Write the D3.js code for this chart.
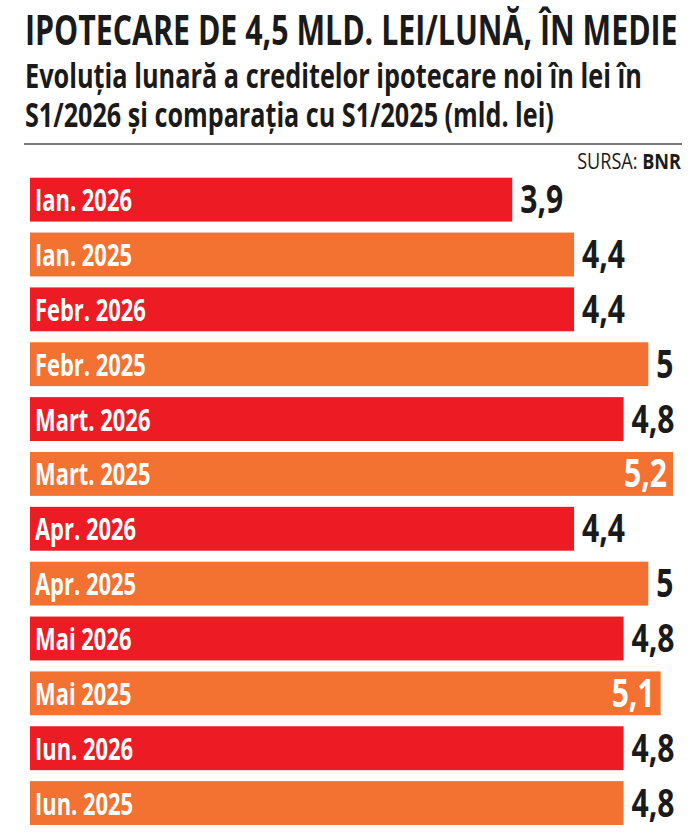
<!DOCTYPE html>
<html lang="ro">
<head>
<meta charset="utf-8">
<title>Ipotecare de 4,5 mld. lei/lună, în medie</title>
<script src="https://cdn.jsdelivr.net/npm/d3@7"></script>
<style>
  html, body { margin: 0; padding: 0; background: #fff; }
  svg { display: block; }
  .cond { font-family: "Open Sans", "Noto Sans", "DejaVu Sans", sans-serif; }
</style>
</head>
<body>
<svg id="chart"></svg>
<script>
  // Date (mld. lei)
  const categories = [
    "Ian. 2026", "Ian. 2025",
    "Febr. 2026", "Febr. 2025",
    "Mart. 2026", "Mart. 2025",
    "Apr. 2026", "Apr. 2025",
    "Mai 2026", "Mai 2025",
    "Iun. 2026", "Iun. 2025"
  ];
  const years = [2026, 2025, 2026, 2025, 2026, 2025, 2026, 2025, 2026, 2025, 2026, 2025];
  const values = [3.9, 4.4, 4.4, 5, 4.8, 5.2, 4.4, 5, 4.8, 5.1, 4.8, 4.8];

  const TITLE = "IPOTECARE DE 4,5 MLD. LEI/LUNĂ, ÎN MEDIE";
  const SUBTITLE = [
    "Evoluția lunară a creditelor ipotecare noi în lei în",
    "S1/2026 și comparația cu S1/2025 (mld. lei)"
  ];

  const width = 699;
  const height = 838;
  const COLORS = { 2026: "#ed1c24", 2025: "#f37231" };

  const ro = d3.formatLocale({ decimal: ",", thousands: ".", grouping: [3], currency: ["", " lei"] });
  const fmt = ro.format(".1~f");

  const svg = d3.select("#chart")
    .attr("width", width)
    .attr("height", height)
    .attr("viewBox", `0 0 ${width} ${height}`);

  // fontul original e condensat: îngustăm pe orizontală până la lățimea din original
  const squeeze = (node, target) => target / node.getComputedTextLength();

  const title = svg.append("text")
    .attr("class", "cond")
    .attr("font-size", 41)
    .attr("font-weight", 700)
    .attr("fill", "#1a1a1a")
    .text(TITLE);
  title.attr("transform", `translate(25,45) scale(${squeeze(title.node(), 653)},1)`);

  const subWidths = [617, 529];
  svg.selectAll("text.subtitle")
    .data(SUBTITLE)
    .join("text")
    .attr("class", "subtitle cond")
    .attr("font-size", 34)
    .attr("font-weight", 700)
    .attr("fill", "#1a1a1a")
    .text(d => d)
    .each(function(d, i) {
      const s = squeeze(this, subWidths[i]);
      d3.select(this).attr("transform", `translate(25,${87.5 + i * 39.5}) scale(${s},1)`);
    });

  svg.append("line")
    .attr("x1", 24).attr("x2", 682)
    .attr("y1", 144).attr("y2", 144)
    .attr("stroke", "#7a7a7a")
    .attr("stroke-width", 2);

  const source = svg.append("text")
    .attr("class", "cond")
    .attr("font-size", 22)
    .attr("fill", "#1a1a1a")
    .attr("text-anchor", "end");
  source.append("tspan").attr("font-weight", 400).text("SURSA: ");
  source.append("tspan").attr("font-weight", 700).text("BNR");
  source.attr("transform", `translate(681,169) scale(${squeeze(source.node(), 104)},1)`);

  // Scale
  const x = d3.scaleLinear().domain([0, 5.2]).range([30, 673]);
  const y = d3.scaleBand()
    .domain(categories)
    .range([177.7, 825])
    .paddingInner(0.2)
    .paddingOuter(0);

  const rows = svg.append("g")
    .selectAll("g")
    .data(categories.map((c, i) => ({ label: c, year: years[i], value: values[i] })))
    .join("g")
    .attr("transform", d => `translate(0,${y(d.label)})`);

  rows.append("rect")
    .attr("x", x(0))
    .attr("width", d => x(d.value) - x(0))
    .attr("height", y.bandwidth())
    .attr("fill", d => COLORS[d.year]);

  const mid = y.bandwidth() / 2;

  const catLabels = rows.append("text")
    .attr("class", "cond")
    .attr("font-size", 30)
    .attr("font-weight", 700)
    .attr("fill", "#fff")
    .text(d => d.label);
  const catScale = squeeze(catLabels.node(), 97);
  catLabels.attr("transform", `translate(35,${mid + 11.5}) scale(${catScale},1)`);

  const valueLabels = rows.append("text")
    .attr("class", "cond")
    .attr("font-size", 40)
    .attr("font-weight", 700)
    .text(d => fmt(d.value));
  const valScale = squeeze(valueLabels.node(), 43);

  // Eticheta valorii: în afara barei dacă încape, altfel în interior, albă
  valueLabels.each(function(d) {
    const w = this.getComputedTextLength() * valScale;
    const end = x(d.value);
    const outside = end + 8 + w <= width - 4;
    const tx = outside ? end + 8 : end - 6 - w;
    d3.select(this)
      .attr("fill", outside ? "#1a1a1a" : "#fff")
      .attr("transform", `translate(${tx},${mid + 13.5}) scale(${valScale},1)`);
  });
</script>
</body>
</html>
